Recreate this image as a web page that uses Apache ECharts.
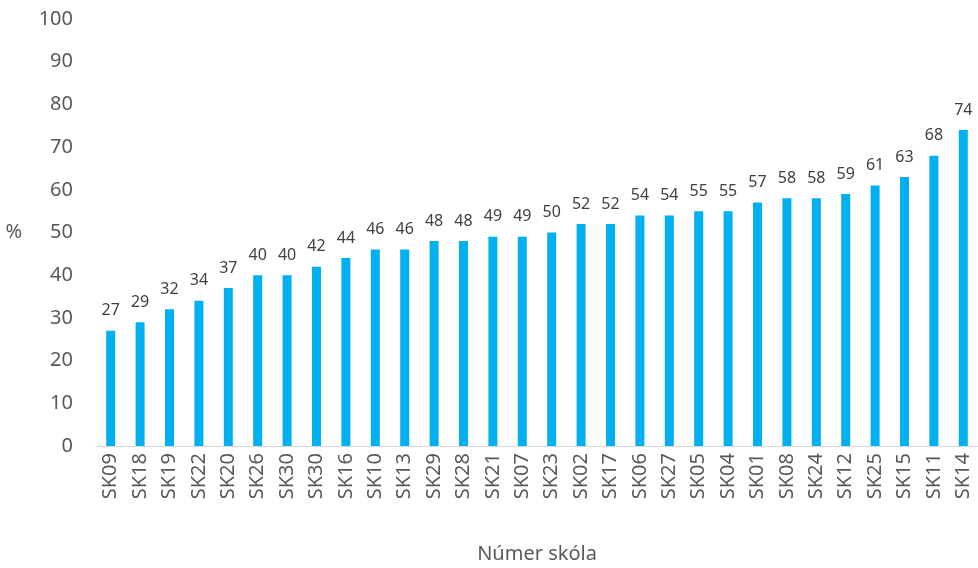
<!DOCTYPE html>
<html><head><meta charset="utf-8">
<script src="https://cdn.jsdelivr.net/npm/echarts@6/dist/echarts.min.js"></script>
<style>html,body{margin:0;padding:0;background:#fff}#c{width:978px;height:568px}</style>
</head><body><div id="c"></div>
<script>
const categories = ['SK09','SK18','SK19','SK22','SK20','SK26','SK30','SK30','SK16','SK10','SK13','SK29','SK28','SK21','SK07','SK23','SK02','SK17','SK06','SK27','SK05','SK04','SK01','SK08','SK24','SK12','SK25','SK15','SK11','SK14'];
const values = [27,29,32,34,37,40,40,42,44,46,46,48,48,49,49,50,52,52,54,54,55,55,57,58,58,59,61,63,68,74];
const yTicks = {min:0, max:100, interval:10};
const chart = echarts.init(document.getElementById('c'));
const font = 'Noto Sans';
chart.setOption({
  animation:false,
  grid:{left:96,right:0,top:19,bottom:122,containLabel:false,outerBoundsMode:'none'},
  xAxis:{type:'category',data:categories,
    axisLine:{lineStyle:{color:'#d9d9d9',width:1}},axisTick:{show:false},
    axisLabel:{rotate:90,interval:0,margin:7,fontSize:20,color:'#595959',fontFamily:font},
    name:'Númer skóla',nameLocation:'middle',nameGap:98,
    nameTextStyle:{fontSize:20,color:'#595959',fontFamily:font}},
  yAxis:{type:'value',min:yTicks.min,max:yTicks.max,interval:yTicks.interval,
    splitLine:{show:false},axisLine:{show:false},axisTick:{show:false},
    axisLabel:{fontSize:20,color:'#595959',margin:23,fontFamily:font},
    name:'%',nameLocation:'middle',nameRotate:0,nameGap:74,
    nameTextStyle:{fontSize:20,color:'#595959',fontFamily:font}},
  series:[{type:'bar',data:values,barWidth:9,itemStyle:{color:'#00B0F0'},
    label:{show:true,position:'top',distance:12,fontSize:16,color:'#404040',fontFamily:font}}]
});
</script></body></html>
